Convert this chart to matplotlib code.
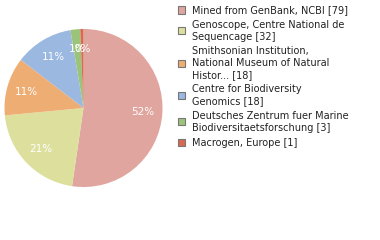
import matplotlib.pyplot as plt

# data
labels = ['Mined from GenBank, NCBI [79]',
          'Genoscope, Centre National de\nSequencage [32]',
          'Smithsonian Institution,\nNational Museum of Natural\nHistor... [18]',
          'Centre for Biodiversity\nGenomics [18]',
          'Deutsches Zentrum fuer Marine\nBiodiversitaetsforschung [3]',
          'Macrogen, Europe [1]']
counts = [79, 32, 18, 18, 3, 1]
colors = ['#e0a59e', '#dde09c', '#eead73', '#9bb8e0', '#9bc47a', '#d9694f']

W, H = 380, 240
fig = plt.figure(figsize=(W / 100, H / 100), dpi=100)

# pie axes: centre (83.5, 108) px, radius 79 px
cx, cy, r = 83.5, 108, 79
ax = fig.add_axes([(cx - r) / W, (H - cy - r) / H, 2 * r / W, 2 * r / H])
ax.pie(counts, colors=colors, startangle=90, counterclock=False,
       autopct=lambda p: '%d%%' % int(p), pctdistance=0.75,
       textprops=dict(color='white', fontsize=7.5),
       wedgeprops=dict(linewidth=0))
ax.set_xlim(-1, 1)
ax.set_ylim(-1, 1)
ax.set_aspect('equal')
ax.axis('off')

# legend drawn by hand
line_h = 11.5
gap = 15
y = 10
for lab, col in zip(labels, colors):
    n = lab.count('\n') + 1
    yc = y + (n - 1) * line_h / 2
    fig.patches.append(plt.Rectangle(((177.5) / W, 1 - (yc + 3.5) / H), 7 / W, 7 / H,
                                     transform=fig.transFigure, facecolor=col,
                                     edgecolor='#777777', linewidth=0.8))
    fig.text(192 / W, 1 - y / H, lab, fontsize=7, color='#222222',
             va='center', ha='left', linespacing=1.2)
    # va='center' on multi-line text centres the block, shift accordingly
    fig.texts[-1].set_y(1 - yc / H)
    y = y + (n - 1) * line_h + gap

fig.savefig('out.png', dpi=100)
